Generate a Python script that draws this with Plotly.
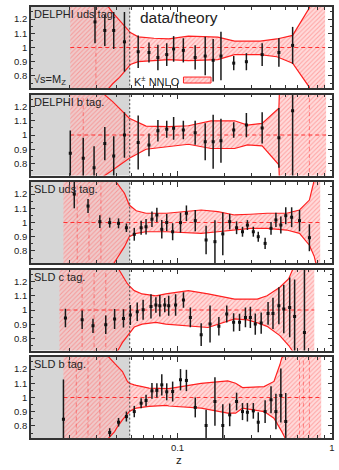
import plotly.graph_objects as go
from plotly.subplots import make_subplots

# ---------------- data: ratio data/theory for each tagged sample ----------------
titles = ["DELPHI uds tag.", "DELPHI b tag.", "SLD uds tag.", "SLD c tag.", "SLD b tag."]

# DELPHI uds
d_uds_z = [0.0292, 0.0338, 0.0386, 0.0453, 0.0556, 0.0653, 0.0746, 0.0851, 0.0943, 0.109,
           0.130, 0.151, 0.170, 0.191, 0.231, 0.279, 0.353, 0.453, 0.556]
d_uds_r = [1.18, 1.12, 1.12, 1.04, 0.97, 0.965, 0.93, 0.95, 0.99, 0.98,
           0.93, 0.94, 0.91, 0.94, 0.89, 0.90, 0.95, 0.965, 1.015]
d_uds_e = [0.15, 0.11, 0.13, 0.21, 0.115, 0.07, 0.09, 0.08, 0.09, 0.085,
           0.085, 0.135, 0.15, 0.17, 0.05, 0.06, 0.08, 0.10, 0.13]
d_uds_bz = [0.0202, 0.0338, 0.0380, 0.0421, 0.0453, 0.0495, 0.0556, 0.0703, 0.0876, 0.1175,
            0.1824, 0.2341, 0.3428, 0.4398, 0.5561, 0.7138, 0.7244, 0.9024]
d_uds_hi = [2.0, 1.32, 1.246, 1.19, 1.148, 1.105, 1.075, 1.065, 1.061, 1.08,
            1.073, 1.045, 1.045, 1.06, 1.085, 1.28, 2.0, 2.0]
d_uds_lo = [0.0, 0.68, 0.745, 0.79, 0.83, 0.88, 0.90, 0.91, 0.915, 0.908,
            0.915, 0.95, 0.95, 0.935, 0.89, 0.72, 0.0, 0.0]
d_uds_vl = [0.0296]

# DELPHI b
d_b_z = [0.0202, 0.0245, 0.0288, 0.0338, 0.0386, 0.0453, 0.0556, 0.0653, 0.0746, 0.0851, 0.0943,
         0.109, 0.130, 0.151, 0.170, 0.191, 0.231, 0.279, 0.353, 0.453, 0.556]
d_b_r = [0.871, 0.836, 0.77, 0.94, 0.852, 1.0, 0.948, 0.93, 1.03, 1.04, 1.047,
         1.035, 1.016, 0.953, 0.953, 0.96, 1.035, 1.07, 1.05, 0.98, 1.17]
d_b_e = [0.16, 0.145, 0.15, 0.117, 0.14, 0.16, 0.19, 0.08, 0.075, 0.06, 0.08,
         0.065, 0.085, 0.13, 0.19, 0.155, 0.055, 0.085, 0.11, 0.21, 0.6]
d_b_bz = [0.0202, 0.0323, 0.0380, 0.0433, 0.0487, 0.0625, 0.0876, 0.1175, 0.1647, 0.2341,
          0.2833, 0.3530, 0.4529, 0.4802, 0.9158]
d_b_hi = [2.0, 1.30, 1.235, 1.176, 1.118, 1.063, 1.059, 1.065, 1.10, 1.10,
          1.07, 1.082, 1.188, 2.0, 2.0]
d_b_lo = [0.0, 0.70, 0.754, 0.80, 0.836, 0.90, 0.92, 0.935, 0.905, 0.905,
          0.93, 0.923, 0.79, 0.0, 0.0]
d_b_vl = [0.0245, 0.714]

# SLD uds
s_uds_z = [0.02144, 0.02632, 0.03139, 0.03636, 0.04148, 0.04664, 0.05244, 0.05809, 0.06251,
           0.06827, 0.07346, 0.07905, 0.0851, 0.09294, 0.1045, 0.1141, 0.1302, 0.1530,
           0.1746, 0.1963, 0.2176, 0.2411, 0.2633, 0.2833, 0.3094, 0.3330, 0.3689,
           0.4028, 0.4334, 0.4664, 0.5018, 0.5480, 0.6162, 0.7138]
s_uds_r = [1.20, 1.116, 1.006, 0.999, 0.994, 0.963, 0.917, 0.963, 0.97,
           1.023, 1.053, 0.952, 1.00, 0.935, 0.999, 1.065, 1.013, 0.877,
           0.865, 0.92, 1.006, 0.963, 0.935, 0.982, 0.935, 0.90, 0.853,
           0.959, 1.018, 0.982, 1.048, 1.037, 1.013, 0.893]
s_uds_e = [0.10, 0.05, 0.045, 0.035, 0.035, 0.03, 0.045, 0.05, 0.055,
           0.055, 0.05, 0.065, 0.06, 0.06, 0.07, 0.055, 0.075, 0.10,
           0.15, 0.15, 0.055, 0.045, 0.035, 0.035, 0.035, 0.035, 0.04,
           0.045, 0.05, 0.06, 0.06, 0.07, 0.075, 0.095]
s_uds_bz = [0.01824, 0.03799, 0.0391, 0.0453, 0.0487, 0.0540, 0.0625, 0.0851, 0.1422, 0.1824,
            0.2341, 0.2961, 0.3799, 0.5093, 0.6162, 0.7138, 0.7679, 0.7910, 0.8026, 0.8388]
s_uds_hi = [2.0, 1.32, 1.30, 1.206, 1.123, 1.083, 1.065, 1.065, 1.088, 1.076,
            1.053, 1.058, 1.065, 1.065, 1.088, 1.158, 1.30, 1.45, 2.0, 2.0]
s_uds_lo = [0.0, 0.70, 0.72, 0.83, 0.90, 0.924, 0.935, 0.935, 0.924, 0.935,
            0.947, 0.959, 0.959, 0.947, 0.924, 0.84, 0.76, 0.70, 0.0, 0.0]
s_uds_vl = [0.0224, 0.0267, 0.0319]

# SLD c
s_c_z = [0.01879, 0.02411, 0.02834, 0.03428, 0.03912, 0.04464, 0.04945, 0.05480, 0.05983,
         0.06727, 0.07239, 0.07677, 0.08263, 0.08764, 0.09712, 0.1092, 0.1210, 0.1422,
         0.1623, 0.1851, 0.2082, 0.2307, 0.2519, 0.2751, 0.2961, 0.3186, 0.3479,
         0.3855, 0.4148, 0.4529, 0.4873, 0.5322, 0.5727, 0.6631]
s_c_r = [0.944, 0.932, 0.889, 0.896, 0.937, 0.941, 0.965, 0.988, 1.002,
         1.025, 1.035, 1.03, 1.035, 1.03, 1.035, 1.07, 0.948, 0.826,
         0.901, 0.885, 0.972, 0.913, 0.913, 0.948, 0.948, 0.901, 0.908,
         0.976, 0.976, 1.03, 1.007, 1.018, 0.955, 0.842]
s_c_e = [0.065, 0.065, 0.05, 0.065, 0.07, 0.065, 0.07, 0.065, 0.07,
         0.085, 0.055, 0.075, 0.05, 0.07, 0.075, 0.055, 0.07, 0.08,
         0.13, 0.065, 0.06, 0.065, 0.06, 0.07, 0.075, 0.075, 0.075,
         0.08, 0.11, 0.13, 0.17, 0.21, 0.26, 0.6]
s_c_bz = [0.0172, 0.04028, 0.04088, 0.04398, 0.04529, 0.04733, 0.04873, 0.05093, 0.05244,
          0.05896, 0.07239, 0.08386, 0.1175, 0.1576, 0.2341, 0.2833, 0.3281, 0.3799,
          0.4596, 0.5244, 0.5643, 0.58, 0.7679]
s_c_hi = [2.0, 1.35, 1.30, 1.24, 1.22, 1.185, 1.17, 1.15, 1.136,
          1.113, 1.10, 1.113, 1.136, 1.113, 1.077, 1.077, 1.077, 1.10,
          1.16, 1.22, 1.30, 2.0, 2.0]
s_c_lo = [0.0, 0.708, 0.72, 0.772, 0.79, 0.819, 0.84, 0.866, 0.88,
          0.901, 0.913, 0.901, 0.89, 0.877, 0.937, 0.93, 0.91, 0.885,
          0.82, 0.75, 0.70, 0.0, 0.0]
s_c_vl = [0.0241, 0.0288, 0.0343]

# SLD b
s_b_z = [0.01824, 0.03636, 0.04148, 0.04664, 0.05244, 0.05809, 0.06251, 0.06827, 0.07346,
         0.07905, 0.0851, 0.09294, 0.1045, 0.1141, 0.1302, 0.1530, 0.1746, 0.1963,
         0.2176, 0.2411, 0.2633, 0.2833, 0.3094, 0.3330, 0.3689, 0.4028, 0.4334,
         0.4664, 0.5018]
s_b_r = [0.847, 0.754, 0.826, 0.866, 0.901, 0.96, 0.979, 1.047, 1.05,
         1.089, 1.04, 1.042, 1.125, 1.12, 0.93, 0.803, 0.972, 0.803,
         0.878, 0.972, 0.901, 0.896, 0.906, 0.826, 0.901, 0.984, 0.901,
         1.014, 0.831]
s_b_e = [0.28, 0.03, 0.03, 0.035, 0.04, 0.035, 0.04, 0.055, 0.05,
         0.075, 0.06, 0.07, 0.075, 0.075, 0.07, 0.11, 0.17, 0.15,
         0.08, 0.062, 0.06, 0.065, 0.055, 0.07, 0.08, 0.095, 0.125,
         0.19, 0.2]
s_b_bz = [0.01824, 0.03479, 0.03912, 0.04028, 0.04398, 0.04733, 0.04873, 0.05244, 0.054,
          0.06533, 0.0851, 0.08764, 0.1422, 0.2113, 0.2376, 0.2633, 0.3636, 0.4209,
          0.4596, 0.4733, 0.4945, 0.5018, 0.8510]
s_b_hi = [2.0, 1.30, 1.24, 1.225, 1.183, 1.113, 1.10, 1.089, 1.085,
          1.066, 1.061, 1.063, 1.10, 1.117, 1.10, 1.07, 1.077, 1.113,
          1.23, 1.28, 1.30, 2.0, 2.0]
s_b_lo = [0.0, 0.70, 0.76, 0.784, 0.843, 0.89, 0.901, 0.92, 0.925,
          0.937, 0.945, 0.94, 0.925, 0.89, 0.89, 0.925, 0.901, 0.854,
          0.79, 0.76, 0.72, 0.0, 0.0]
s_b_vl = [0.0221, 0.0263, 0.0314, 0.616, 0.653, 0.714]

y_ticks = [0.8, 0.9, 1.0, 1.1, 1.2]
y_tick_text = ["0.8", "0.9", "1", "1.1", "1.2"]
x_ticks = [0.1, 1]
x_tick_text = ["0.1", "1"]
x_minor = [0.02, 0.03, 0.04, 0.05, 0.06, 0.07, 0.08, 0.09, 0.2, 0.3, 0.4, 0.5, 0.6, 0.7, 0.8, 0.9]

z_excluded = 0.049          # low-z region left out of the fit
z_left = 10 ** -1.949

panels = [
    (d_uds_z, d_uds_r, d_uds_e, d_uds_bz, d_uds_lo, d_uds_hi, d_uds_vl),
    (d_b_z, d_b_r, d_b_e, d_b_bz, d_b_lo, d_b_hi, d_b_vl),
    (s_uds_z, s_uds_r, s_uds_e, s_uds_bz, s_uds_lo, s_uds_hi, s_uds_vl),
    (s_c_z, s_c_r, s_c_e, s_c_bz, s_c_lo, s_c_hi, s_c_vl),
    (s_b_z, s_b_r, s_b_e, s_b_bz, s_b_lo, s_b_hi, s_b_vl),
]

# ---------------- figure ----------------
FONT = "Liberation Sans, Arial, sans-serif"
TXT = "#222222"
FRAME = "#333333"
RED = "#ff2020"
BAND_BG = "rgba(255,195,195,0.6)"
HATCH = dict(shape="/", fgcolor="rgba(255,80,80,0.85)", bgcolor=BAND_BG,
             size=3.2, solidity=0.32)

fig = make_subplots(rows=5, cols=1, shared_xaxes=True, vertical_spacing=0.01)

W, H = 339, 470
m_t, m_b, m_l, m_r = 7, 32, 31, 4
plot_h = H - m_t - m_b
ph, gap = 81, 6.5

for i, (z, r, e, bz, blo, bhi, vl) in enumerate(panels):
    row = i + 1
    # excluded low-z region
    fig.add_trace(go.Scatter(x=[z_left, z_excluded, z_excluded, z_left], y=[0, 0, 2, 2],
                             fill="toself", fillcolor="#d6d6d6", mode="none",
                             hoverinfo="skip", showlegend=False), row=row, col=1)
    # theory uncertainty band
    fig.add_trace(go.Scatter(x=bz, y=blo, mode="lines", line=dict(color=RED, width=1.2),
                             showlegend=False, hoverinfo="skip"), row=row, col=1)
    fig.add_trace(go.Scatter(x=bz, y=bhi, mode="lines", line=dict(color=RED, width=1.2),
                             fill="tonexty", fillcolor=BAND_BG,
                             fillpattern=HATCH, showlegend=False, hoverinfo="skip"),
                  row=row, col=1)
    # reference line at unity across the band
    fig.add_trace(go.Scatter(x=[bz[0], bz[-1]], y=[1, 1], mode="lines",
                             line=dict(color=RED, width=0.9, dash="4px,3px"),
                             showlegend=False, hoverinfo="skip"), row=row, col=1)
    for zv in vl:
        fig.add_trace(go.Scatter(x=[zv, zv], y=[0, 2], mode="lines",
                                 line=dict(color="rgba(255,40,40,0.6)", width=0.8, dash="4px,3px"),
                                 showlegend=False, hoverinfo="skip"), row=row, col=1)
    # boundary of the excluded region
    fig.add_trace(go.Scatter(x=[z_excluded, z_excluded], y=[0, 2], mode="lines",
                             line=dict(color="#444444", width=1, dash="2px,2px"),
                             showlegend=False, hoverinfo="skip"), row=row, col=1)
    # data points
    fig.add_trace(go.Scatter(x=z, y=r, mode="markers",
                             marker=dict(symbol="square", size=3, color="#111111"),
                             error_y=dict(type="data", array=e, width=0, thickness=1.5,
                                          color="#1a1a1a"),
                             showlegend=False), row=row, col=1)

    top = m_t + i * (ph + gap)
    bot = top + ph
    dom = [1 - (bot - m_t) / plot_h, 1 - (top - m_t) / plot_h]
    yname = "yaxis" if i == 0 else f"yaxis{row}"
    xname = "xaxis" if i == 0 else f"xaxis{row}"
    fig.layout[yname].update(domain=dom, range=[0.715, 1.285], tickvals=y_ticks,
                             ticktext=y_tick_text, ticks="inside", ticklen=4,
                             minor=dict(dtick=0.05, ticks="inside", ticklen=2.5, tickcolor=FRAME),
                             showline=True, linewidth=1.8, linecolor=FRAME, mirror="ticks",
                             tickcolor=FRAME, showgrid=False, zeroline=False,
                             tickfont=dict(size=9.5, color=TXT, family=FONT))
    fig.layout[xname].update(type="log", range=[-1.949, 0], tickvals=x_ticks,
                             ticktext=x_tick_text, ticks="inside", ticklen=5,
                             minor=dict(tickvals=x_minor, ticks="inside", ticklen=3, tickcolor=FRAME),
                             showline=True, linewidth=1.8, linecolor=FRAME, mirror="ticks",
                             tickcolor=FRAME, showgrid=False, zeroline=False,
                             showticklabels=(i == 4),
                             tickfont=dict(size=9.5, color=TXT, family=FONT))

    xd = "x domain" if i == 0 else f"x{row} domain"
    yd = "y domain" if i == 0 else f"y{row} domain"
    fig.add_annotation(text=titles[i], xref=xd, yref=yd, x=0.004, y=1 - 7 / ph,
                       xanchor="left", yanchor="middle", showarrow=False,
                       font=dict(size=11, color=TXT, family=FONT))

# legend key for the theory band (panel 1)
key_x = [0.1092, 0.1647, 0.1647, 0.1092, 0.1092]
key_y = [0.750, 0.750, 0.792, 0.792, 0.750]
fig.add_trace(go.Scatter(x=key_x, y=key_y, fill="toself", mode="lines",
                         line=dict(color=RED, width=1), fillcolor=BAND_BG,
                         fillpattern=HATCH, showlegend=False, hoverinfo="skip"), row=1, col=1)

pw = W - m_l - m_r
fig.add_annotation(text="√s=M<sub>Z</sub>", xref="x domain", yref="y domain",
                   x=0.004, y=8 / ph, xanchor="left", yanchor="middle", showarrow=False,
                   font=dict(size=11, color=TXT, family=FONT))
fig.add_annotation(text="K<sup>±</sup> NNLO", xref="x domain", yref="y domain",
                   x=(133 - m_l) / pw, y=7 / ph, xanchor="left", yanchor="middle",
                   showarrow=False, font=dict(size=11, color=TXT, family=FONT))
fig.add_annotation(text="data/theory", xref="x domain", yref="y domain",
                   x=(139 - m_l) / pw, y=1 - 11 / ph, xanchor="left",
                   yanchor="middle", showarrow=False,
                   font=dict(size=15.5, color=TXT, family=FONT))
fig.add_annotation(text="z", xref="paper", yref="paper",
                   x=(180 - m_l) / pw, y=-22 / plot_h, xanchor="center",
                   yanchor="middle", showarrow=False,
                   font=dict(size=11.5, color=TXT, family=FONT))

fig.update_layout(width=W, height=H, margin=dict(l=m_l, r=m_r, t=m_t, b=m_b),
                  paper_bgcolor="white", plot_bgcolor="white", showlegend=False)

fig.write_html("out.html")
